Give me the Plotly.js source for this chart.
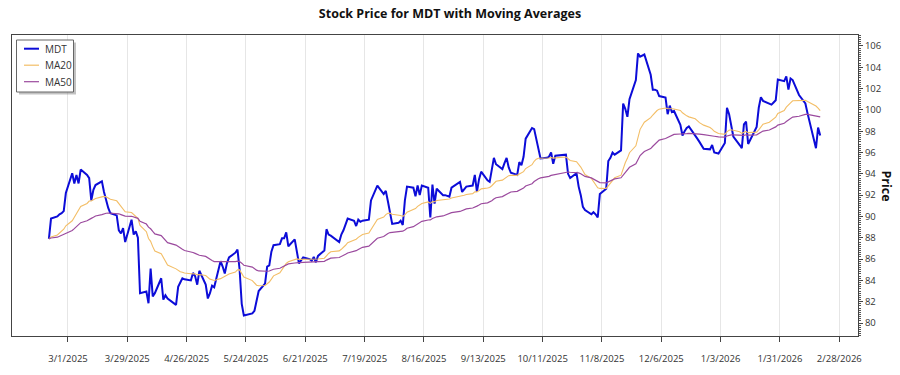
<!DOCTYPE html>
<html>
<head>
<meta charset="utf-8">
<script src="https://cdn.plot.ly/plotly-3.0.1.min.js"></script>
<style>html,body{margin:0;padding:0;background:#fff}#chart{width:900px;height:375px}</style>
</head>
<body>
<div id="chart"></div>
<script>
// ---- data ----
const ticker = "MDT";
const firstDay = "2025-02-20";
const lastDay = "2026-02-19";
const marketHolidays = ["2025-04-18","2025-05-26","2025-06-19","2025-07-04","2025-09-01",
  "2025-11-27","2025-12-25","2026-01-01","2026-01-19","2026-02-16"];

// daily close, one row per trading week
const closePrice = [
  87.9, 89.8,
  90.0, 90.2, 90.3, 90.5, 92.2,
  94.05, 93.1, 93.9, 93.1, 94.4,
  93.9, 93.6, 91.5, 92.5, 92.95,
  93.3, 92.3, 91.5, 90.8, 90.3,
  90.1, 88.7, 88.4, 88.9, 87.6,
  89.7, 88.3, 88.6, 88.0, 82.8,
  82.95, 81.85, 85.1, 82.5, 82.8,
  84.2, 82.2, 82.6, 82.3,
  81.7, 83.4, 83.8, 84.2, 84.1,
  84.0, 84.7, 84.4, 83.6, 84.9,
  83.6, 82.3, 82.8, 83.5, 83.35,
  85.8, 85.3, 84.65, 85.6, 86.15,
  86.6, 86.9, 85.0, 81.8, 80.7,
  80.9, 81.15, 82.0, 83.0,
  83.7, 85.3, 85.4, 86.7, 87.3,
  87.4, 87.95, 87.95, 88.5, 87.2,
  87.85, 86.6, 85.6, 86.15,
  86.0, 85.85, 86.2, 85.7, 86.3,
  86.8, 88.8, 88.3, 88.2,
  87.6, 88.3, 88.7, 89.3, 89.8,
  89.6, 89.1, 89.7, 89.5, 89.6,
  89.7, 91.5, 92.0, 92.5, 92.9,
  92.1, 92.4, 91.4, 90.5, 89.3,
  89.4, 89.6, 89.2, 91.5, 92.8,
  92.7, 91.9, 92.9, 92.0, 92.9,
  92.7, 89.9, 93.0, 91.2, 92.6,
  92.0, 92.0, 91.9, 91.85, 92.7,
  93.25, 92.3, 92.6, 92.8,
  92.9, 93.9, 92.3, 93.5, 94.2,
  93.4, 93.25, 94.4, 95.5, 94.9,
  94.45, 95.0, 95.5, 94.6, 94.1,
  93.9, 95.1, 94.8, 95.6, 97.3,
  98.3, 98.2, 97.3, 96.3, 95.45,
  95.5, 95.6, 96.0, 94.95, 95.7,
  95.8, 95.8, 95.8, 94.0, 93.6,
  94.05, 92.8, 92.0, 90.9, 90.6,
  90.2, 90.4, 90.2, 89.9, 92.1,
  92.6, 95.2, 95.5, 96.0, 95.8,
  96.2, 100.6, 100.1, 99.35, 101.0,
  102.8, 105.3, 105.0, 105.2,
  103.3, 101.9, 101.9, 101.8, 101.3,
  101.15, 99.6, 100.4, 99.8, 99.9,
  98.6, 97.6, 98.0, 98.3, 98.45,
  97.5, 97.3, 97.0, 96.35,
  96.3, 96.7, 96.0, 95.9,
  96.9, 100.2, 99.6, 98.5, 97.5,
  96.7, 96.4, 98.65, 98.9, 96.8,
  98.4, 100.2, 101.2, 100.85,
  100.55, 100.5, 100.7, 100.9, 102.85,
  102.7, 103.15, 101.9, 102.95, 102.8,
  101.4, 101.1, 100.9, 100.6, 99.7,
  96.4, 98.35, 97.6
];
const maSpans = [20, 50];
const seriesNames = ["MDT", "MA20", "MA50"];
const xTickStart = "2025-03-01";
const xTickStepDays = 28;

// ---- trading calendar (weekdays minus holidays) ----
function tradingDays(a, b, skip) {
  const out = [];
  const d = new Date(a + "T00:00:00Z"), end = new Date(b + "T00:00:00Z");
  while (d <= end) {
    const s = d.toISOString().slice(0, 10), w = d.getUTCDay();
    if (w !== 0 && w !== 6 && skip.indexOf(s) < 0) out.push(s);
    d.setUTCDate(d.getUTCDate() + 1);
  }
  return out;
}
const dates = tradingDays(firstDay, lastDay, marketHolidays);

// moving averages derived from the closes (exponential, seeded with the first close)
function ema(values, span) {
  const a = 2 / (span + 1); const out = [];
  values.forEach((v, i) => out.push(i === 0 ? v : out[i - 1] + a * (v - out[i - 1])));
  return out;
}
const ma20 = ema(closePrice, maSpans[0]);
const ma50 = ema(closePrice, maSpans[1]);

// ---- geometry helpers (pixel -> paper) ----
const W = 900, H = 375, M = {l: 12, r: 42, t: 35, b: 39};
const PW = W - M.l - M.r, PH = H - M.t - M.b;
const px = x => (x - M.l) / PW;
const py = y => (H - M.b - y) / PH;

const FONT = "Open Sans, Noto Sans, sans-serif";
const colors = ["#0c0cd8", "#f3be66", "#9b4a9e"];

const traces = [
  {x: dates, y: closePrice, name: seriesNames[0], type: "scatter", mode: "lines",
   line: {color: colors[0], width: 2}},
  {x: dates, y: ma20, name: seriesNames[1], type: "scatter", mode: "lines",
   line: {color: colors[1], width: 1.1}},
  {x: dates, y: ma50, name: seriesNames[2], type: "scatter", mode: "lines",
   line: {color: colors[2], width: 1.2}}
];

// custom legend box
const legBox = {x0: 16.5, y0: 40, x1: 73.5, y1: 92};
const legRows = [48.7, 65.2, 81.7];
const shapes = [
  {type: "rect", xref: "paper", yref: "paper", layer: "above",
   x0: px(legBox.x0 + 2.5), x1: px(legBox.x1 + 2.5), y0: py(legBox.y0 + 2.5), y1: py(legBox.y1 + 2.5),
   fillcolor: "rgba(120,120,120,0.45)", line: {width: 0}},
  {type: "rect", xref: "paper", yref: "paper", layer: "above",
   x0: px(legBox.x0), x1: px(legBox.x1), y0: py(legBox.y0), y1: py(legBox.y1),
   fillcolor: "#ffffff", line: {color: "#666", width: 1}}
];
const annotations = [];
legRows.forEach((yy, i) => {
  shapes.push({type: "line", xref: "paper", yref: "paper", layer: "above",
    x0: px(24), x1: px(39), y0: py(yy), y1: py(yy),
    line: {color: colors[i], width: i === 0 ? 2 : 1.2}});
  annotations.push({xref: "paper", yref: "paper", x: px(42.5), y: py(yy), xanchor: "left", yanchor: "middle",
    text: seriesNames[i], showarrow: false, font: {family: FONT, size: 10, color: "#333"}});
});
annotations.push({xref: "paper", yref: "paper", x: px(886), y: 0.5, xanchor: "center", yanchor: "middle",
  text: "Price", textangle: 90, showarrow: false,
  font: {family: FONT, size: 12.5, color: "#111", weight: "bold"}});

const layout = {
  width: W, height: H, margin: M,
  paper_bgcolor: "#fff", plot_bgcolor: "#fff",
  showlegend: false,
  title: {text: "Stock Price for " + ticker + " with Moving Averages", xref: "container", x: 0.5,
    y: 1 - 14 / H, yanchor: "middle", font: {family: FONT, size: 12.5, color: "#111", weight: "bold"}},
  xaxis: {type: "date", range: ["2025-02-02 14:00", "2026-03-08 20:00"],
    tick0: xTickStart, dtick: xTickStepDays * 86400000, tickformat: "%-m/%-d/%Y",
    ticks: "outside", ticklen: 5, tickcolor: "#444", ticklabelstandoff: 9,
    showgrid: true, gridcolor: "#e6e6e6", gridwidth: 1,
    showline: true, linecolor: "#444", linewidth: 1, mirror: true, zeroline: false,
    tickfont: {family: FONT, size: 9.5, color: "#333"}},
  yaxis: {side: "right", range: [78.78, 107.03], tick0: 80, dtick: 2,
    ticks: "outside", ticklen: 4, tickcolor: "#444",
    minor: {ticks: "outside", dtick: 0.2, ticklen: 2, tickcolor: "#555", showgrid: false},
    showgrid: false, zeroline: false,
    showline: true, linecolor: "#444", linewidth: 1, mirror: true,
    tickfont: {family: FONT, size: 9.5, color: "#333"}},
  shapes: shapes, annotations: annotations
};

Plotly.newPlot("chart", traces, layout, {displayModeBar: false, staticPlot: true});
</script>
</body>
</html>
